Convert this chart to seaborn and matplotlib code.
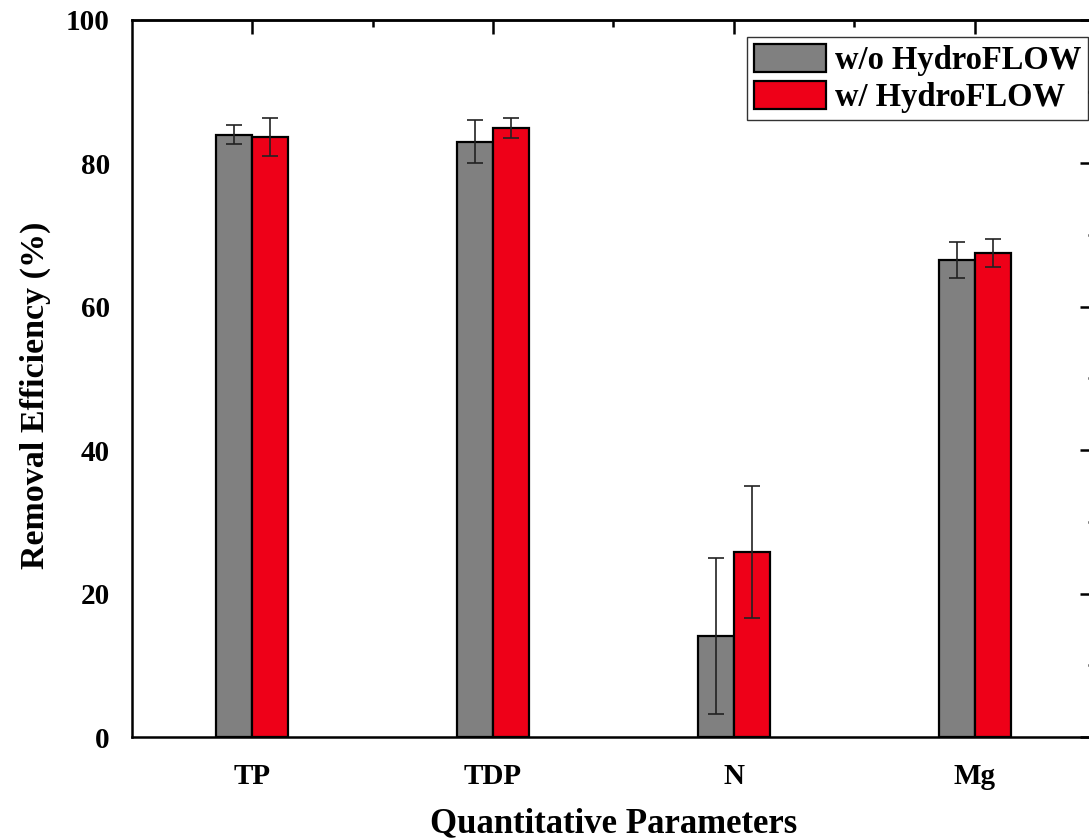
import matplotlib
matplotlib.use("Agg")
import matplotlib.pyplot as plt
import seaborn as sns
import pandas as pd
import numpy as np
from matplotlib.patches import Patch
from matplotlib.ticker import MultipleLocator, FixedLocator

categories = ["TP", "TDP", "N", "Mg"]
groups = ["w/o HydroFLOW", "w/ HydroFLOW"]
without_vals = [84.0, 83.0, 14.1, 66.5]
without_err = [1.3, 3.0, 10.9, 2.5]
with_vals = [83.7, 85.0, 25.8, 67.5]
with_err = [2.6, 1.4, 9.2, 1.9]
colors = ["#808080", "#EE0018"]

df = pd.DataFrame({
    "Parameter": categories * 2,
    "Group": [groups[0]] * 4 + [groups[1]] * 4,
    "Value": without_vals + with_vals,
    "Err": without_err + with_err,
})

sns.set_style("white")
plt.rcParams["font.family"] = ["Liberation Serif", "DejaVu Serif"]
plt.rcParams["font.weight"] = "bold"
plt.rcParams["text.color"] = "black"
plt.rcParams["axes.labelcolor"] = "black"
plt.rcParams["xtick.color"] = "black"
plt.rcParams["ytick.color"] = "black"

W, H = 1089, 838
fig = plt.figure(figsize=(W / 100, H / 100), dpi=100)
left_px, right_px, top_px, bottom_px = 132, 1095, 20, 737
ax = fig.add_axes([left_px / W, (H - bottom_px) / H,
                   (right_px - left_px) / W, (bottom_px - top_px) / H])

sns.barplot(data=df, x="Parameter", y="Value", hue="Group", order=categories,
            hue_order=groups, palette=colors, width=0.3, gap=0, errorbar=None,
            edgecolor="black", linewidth=1.6, saturation=1, ax=ax, legend=False)

# error bars positioned on the bars drawn by seaborn
for container, errs in zip(ax.containers, [without_err, with_err]):
    for bar, e in zip(container, errs):
        xc = bar.get_x() + bar.get_width() / 2
        ax.errorbar(xc, bar.get_height(), yerr=e, fmt="none", ecolor="#222222",
                    elinewidth=1.2, capsize=6, capthick=1.2, zorder=5)

ax.set_xlim(-0.5, 3.5)
ax.set_ylim(0, 100)
ax.yaxis.set_major_locator(MultipleLocator(20))
ax.yaxis.set_minor_locator(MultipleLocator(10))
ax.xaxis.set_minor_locator(FixedLocator([0.5, 1.5, 2.5]))

for s in ax.spines.values():
    s.set_linewidth(1.8)
    s.set_color("black")

ax.tick_params(axis="both", which="major", direction="out", length=11, width=1.8,
               labelsize=21, color="black", labelcolor="black")
ax.tick_params(axis="both", which="minor", direction="out", length=5, width=1.8,
               color="black")
ax.tick_params(axis="x", which="major", pad=8)
ax.tick_params(axis="y", which="major", pad=5)
for lab in ax.get_xticklabels() + ax.get_yticklabels():
    lab.set_fontweight("bold")

secx = ax.secondary_xaxis("top")
secx.set_xticks([0, 1, 2, 3])
secx.xaxis.set_minor_locator(FixedLocator([0.5, 1.5, 2.5]))
secx.tick_params(axis="x", which="major", direction="in", length=10, width=1.8,
                 labeltop=False)
secx.tick_params(axis="x", which="minor", direction="in", length=5, width=1.8)
secx.spines["top"].set_linewidth(1.8)

secy = ax.secondary_yaxis("right")
secy.yaxis.set_major_locator(MultipleLocator(20))
secy.yaxis.set_minor_locator(MultipleLocator(10))
secy.tick_params(axis="y", which="major", direction="in", length=11, width=1.8,
                 labelright=False)
secy.tick_params(axis="y", which="minor", direction="in", length=5, width=1.8)

ax.set_xlabel("Quantitative Parameters", fontsize=25, fontweight="bold", labelpad=12)
ax.set_ylabel("Removal Efficiency (%)", fontsize=24.5, fontweight="bold", labelpad=11)
ax.yaxis.label.set_y(0.477)

handles = [Patch(facecolor=c, edgecolor="black", linewidth=1.6) for c in colors]
leg = ax.legend(handles, groups, loc="upper right", bbox_to_anchor=(0.993, 0.976),
                frameon=True, fancybox=False, edgecolor="black", fontsize=23.5,
                handlelength=2.2, handleheight=0.95, labelspacing=0.15,
                borderpad=0.2, handletextpad=0.3, borderaxespad=0)
leg.get_frame().set_linewidth(1.0)
for t in leg.get_texts():
    t.set_fontweight("bold")

fig.savefig("out.png", dpi=100)
